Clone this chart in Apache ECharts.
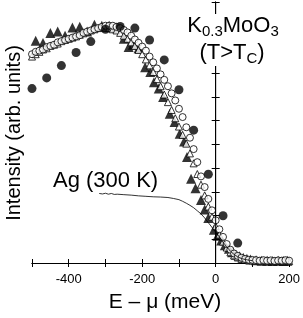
<!DOCTYPE html>
<html>
<head>
<meta charset="utf-8">
<script src="https://cdn.jsdelivr.net/npm/echarts@6/dist/echarts.min.js"></script>
<style>html,body{margin:0;padding:0;background:#fff}#c{width:303px;height:318px}</style>
</head>
<body>
<div id="c"></div>
<script>
// Energy grid (meV) for the open-marker series
var gridE = [-500,-490,-480,-470,-460,-450,-440,-430,-420,-410,-400,-390,-380,-370,-360,-350,-340,-330,-320,-310,-300,-290,-280,-270,-260,-250,-240,-230,-220,-210,-200,-190,-180,-170,-160,-150,-140,-130,-120,-110,-100,-90,-80,-70,-60,-50,-40,-30,-20,-10,0,10,20,30,40,50,60,70,80,90,100,110,120,130,140,150,160,170,180,190,200];
var openCircleI = [8.8,8.9,8.95,9.0,9.1,9.15,9.2,9.3,9.35,9.4,9.45,9.5,9.55,9.6,9.7,9.75,9.8,9.85,9.9,9.95,10.0,10.0,10.0,9.95,9.9,9.82,9.72,9.58,9.42,9.28,9.12,8.95,8.7,8.46,8.2,7.95,7.72,7.45,7.15,6.85,6.5,6.15,5.72,5.28,4.8,4.25,3.65,3.2,2.7,2.22,1.8,1.42,1.1,0.8,0.56,0.4,0.3,0.22,0.17,0.14,0.13,0.12,0.1,0.12,0.1,0.11,0.09,0.11,0.1,0.12,0.1];
var openTriI = [8.7,8.8,8.9,9.0,9.05,9.15,9.2,9.25,9.35,9.4,9.45,9.5,9.55,9.62,9.68,9.75,9.8,9.85,9.9,9.92,9.92,9.9,9.85,9.8,9.7,9.58,9.45,9.3,9.15,8.98,8.8,8.58,8.33,8.05,7.75,7.45,7.1,6.78,6.45,6.1,5.75,5.4,5.03,4.62,4.2,3.75,3.3,2.85,2.38,1.95,1.55,1.2,0.9,0.65,0.45,0.32,0.24,0.18,0.15,0.12,0.11,0.1,0.09,0.1,0.08,0.09,0.1,0.08,0.09,0.1,0.08];
// Filled triangles
var filledTriE = [-490,-470,-450,-430,-410,-390,-370,-350,-330,-310,-290,-270,-250,-237,-225,-210,-192,-178,-168,-155,-143,-125,-112,-98,-86,-78,-67,-55,-40,-30,-20,-5,5,15,25,36,45,55,65,75,85,95,110,125,140,155,170,185,195];
var filledTriI = [9.37,9.27,9.69,9.76,9.58,9.93,9.96,9.76,10.04,10.0,10.0,9.93,9.45,9.1,9.2,9.05,8.25,8.05,7.62,7.35,7.0,6.29,5.94,5.45,5.12,4.47,3.55,3.15,2.65,2.25,1.9,1.4,1.15,0.95,0.75,0.6,0.45,0.35,0.28,0.22,0.18,0.15,0.12,0.1,0.1,0.08,0.1,0.08,0.1];
// Filled circles
var filledCircE = [-500,-460,-420,-380,-340,-300,-260,-220,-180,-140,-100,-60,-20,20,60];
var filledCircI = [7.35,7.8,8.32,8.87,9.33,9.85,9.97,9.9,9.4,8.56,7.3,5.6,3.74,1.99,0.84];
// Ag (300 K) reference spectrum
var agE = [-317,-308,-300,-292,-284,-276,-268,-250,-230,-210,-190,-170,-150,-130,-115,-100,-90,-80,-70,-60,-50,-40,-30,-20,-10,0,10,20,30,40,50,60,70,80,90,100];
var agI = [2.93,2.91,2.94,2.9,2.93,2.89,2.9,2.88,2.86,2.83,2.81,2.79,2.78,2.76,2.72,2.67,2.6,2.52,2.43,2.33,2.2,2.07,1.9,1.7,1.5,1.3,1.1,0.88,0.68,0.5,0.36,0.26,0.19,0.15,0.12,0.1];
// Fermi level marker
var zeroE = [0,0];
var zeroI = [0,11];
// Tick labels
var xTickLabels = {'-400':'-400','-200':'-200','0':'0','200':'200'};

function pairs(xs, ys){ return xs.map(function(x,i){ return [x, ys[i]]; }); }

var chart = echarts.init(document.getElementById('c'), null, {renderer:'canvas'});
var FONT = 'Liberation Sans, Arial, Helvetica, sans-serif';
var axisCommon = {
  axisLine:{show:true, lineStyle:{color:'#000', width:1}},
  axisTick:{show:true, inside:true, length:4, lineStyle:{color:'#000', width:1}},
  splitLine:{show:false}
};
var richTitle = {
  m:{fontSize:22, fontFamily:FONT, lineHeight:24, fill:'#000'},
  s:{fontSize:15, fontFamily:FONT, lineHeight:24, padding:[11,0,0,0], fill:'#000'}
};
chart.setOption({
  animation:false,
  backgroundColor:'#fff',
  grid:{left:32, right:10, top:2, bottom:55, containLabel:false},
  xAxis:[
    Object.assign({type:'value', min:-500, max:200, interval:100, position:'bottom',
      axisLabel:{show:true, color:'#000', fontSize:13, fontFamily:FONT, margin:10,
        formatter:function(v){ return xTickLabels[String(v)] || ''; }}}, axisCommon),
    Object.assign({type:'value', min:-500, max:200, interval:100, position:'top',
      axisLabel:{show:false}}, axisCommon)
  ],
  yAxis:[
    Object.assign({type:'value', min:0, max:11, interval:1, position:'left', axisLabel:{show:false}}, axisCommon),
    Object.assign({type:'value', min:0, max:11, interval:1, position:'right', axisLabel:{show:false}}, axisCommon)
  ],
  series:[
    {type:'line', data:pairs(zeroE, zeroI), symbol:'none', lineStyle:{color:'#000', width:1}, silent:true},
    {type:'line', data:pairs(agE, agI), symbol:'none', lineStyle:{color:'#000', width:0.8}, silent:true},
    {type:'scatter', data:pairs(filledTriE, filledTriI), symbol:'triangle', symbolSize:10,
      itemStyle:{color:'#000'}},
    {type:'scatter', data:pairs(gridE, openTriI), symbol:'triangle', symbolSize:7,
      itemStyle:{color:'#fff', borderColor:'#000', borderWidth:1}},
    {type:'scatter', data:pairs(gridE, openCircleI), symbol:'circle', symbolSize:7,
      itemStyle:{color:'#fff', borderColor:'#000', borderWidth:1}},
    {type:'scatter', data:pairs(filledCircE, filledCircI), symbol:'circle', symbolSize:9,
      itemStyle:{color:'#000'}}
  ],
  graphic:[
    {type:'rect', z:100, shape:{x:184, y:14, width:98, height:52}, style:{fill:'#fff'}},
    {type:'text', z:101, x:233, y:26, style:{text:'{m|K}{s|0.3}{m|MoO}{s|3}', textAlign:'center', textVerticalAlign:'middle', fill:'#000', rich:richTitle}},
    {type:'text', z:101, x:232, y:53, style:{text:'{m|(T>T}{s|C}{m|)}', textAlign:'center', textVerticalAlign:'middle', fill:'#000', rich:richTitle}},
    {type:'text', z:101, x:53, y:181, style:{text:'Ag (300 K)', font:'22px '+FONT, textAlign:'left', textVerticalAlign:'middle', fill:'#000'}},
    {type:'text', z:101, x:165, y:302, style:{text:'E – μ (meV)', font:'21px '+FONT, textAlign:'center', textVerticalAlign:'middle', fill:'#000'}},
    {type:'text', z:101, x:14, y:133, rotation:Math.PI/2, style:{text:'Intensity (arb. units)', font:'20px '+FONT, textAlign:'center', textVerticalAlign:'middle', fill:'#000'}}
  ]
});
</script>
</body>
</html>
